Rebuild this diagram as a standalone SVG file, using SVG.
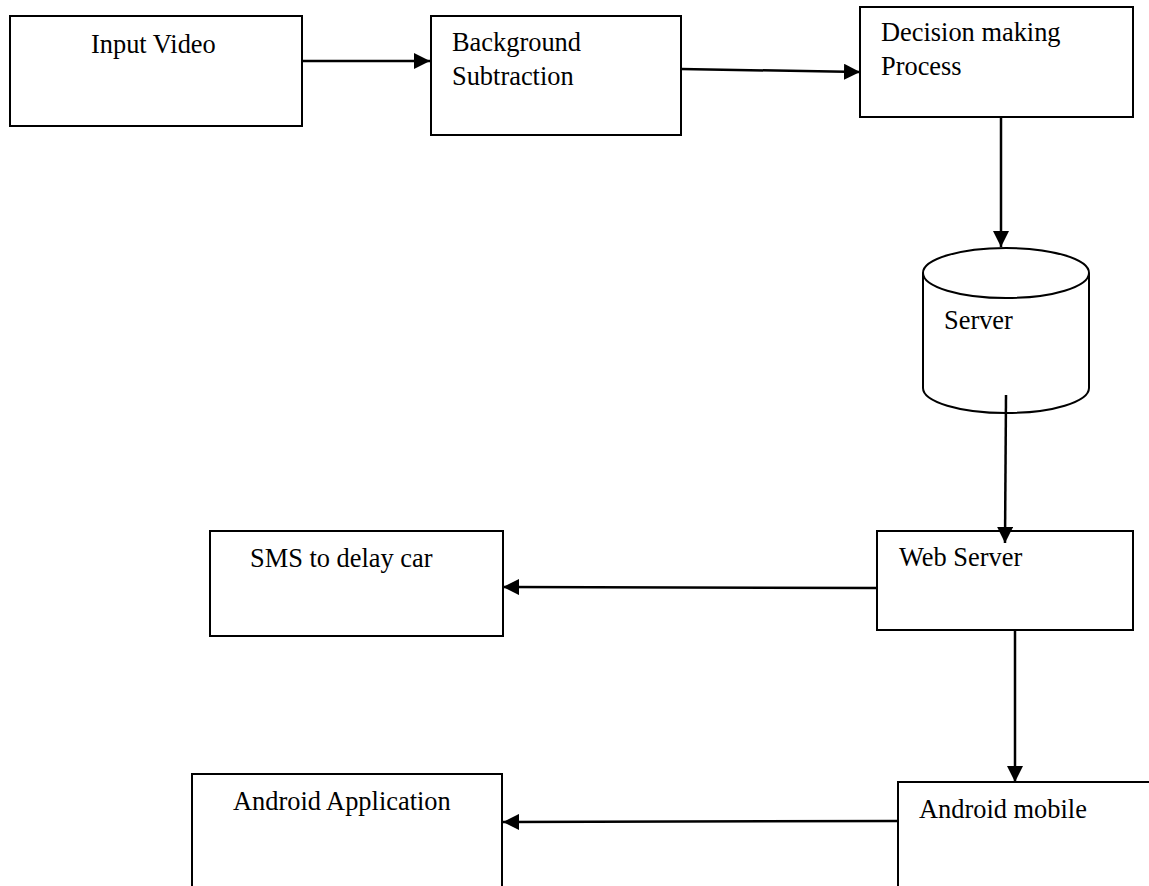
<svg xmlns="http://www.w3.org/2000/svg" width="1149" height="886" viewBox="0 0 1149 886">
  <style>
    .box { fill: #ffffff; stroke: #000000; stroke-width: 2; }
    .lbl { font-family: "Liberation Serif", "Times New Roman", serif; font-size: 26.4px; fill: #000000; }
    .wire { fill: none; stroke: #000000; stroke-width: 2.5; marker-end: url(#head); }
  </style>
  <defs>
    <marker id="head" markerUnits="userSpaceOnUse" viewBox="0 0 16 16" markerWidth="16" markerHeight="16" refX="16" refY="8" orient="auto">
      <path d="M0,0 L16,8 L0,16 Z" fill="#000000"/>
    </marker>
  </defs>
  <rect width="1149" height="886" fill="#ffffff"/>

  <g id="input-video">
    <rect class="box" x="10" y="16" width="292" height="110"/>
    <text class="lbl" x="91" y="53">Input Video</text>
  </g>

  <g id="background-subtraction">
    <rect class="box" x="431" y="16" width="250" height="119"/>
    <text class="lbl" x="452" y="51">Background</text>
    <text class="lbl" x="452" y="85">Subtraction</text>
  </g>

  <g id="decision-making">
    <rect class="box" x="860" y="7" width="273" height="110"/>
    <text class="lbl" x="881" y="41">Decision making</text>
    <text class="lbl" x="881" y="75">Process</text>
  </g>

  <g id="server">
    <path class="box" d="M923,273 A83,25 0 0,1 1089,273 L1089,388 A83,25 0 0,1 923,388 Z"/>
    <path class="box" fill="none" d="M923,273 A83,25 0 0,0 1089,273"/>
    <text class="lbl" x="944" y="329">Server</text>
  </g>

  <g id="web-server">
    <rect class="box" x="877" y="531" width="256" height="99"/>
    <text class="lbl" x="899" y="566">Web Server</text>
  </g>

  <g id="sms">
    <rect class="box" x="210" y="531" width="293" height="105"/>
    <text class="lbl" x="250" y="567">SMS to delay car</text>
  </g>

  <g id="android-application">
    <rect class="box" x="192" y="774" width="310" height="130"/>
    <text class="lbl" x="233" y="810">Android Application</text>
  </g>

  <g id="android-mobile">
    <rect class="box" x="898" y="782" width="270" height="130"/>
    <text class="lbl" x="919" y="818">Android mobile</text>
  </g>

  <g id="connectors">
    <line class="wire" x1="302" y1="61" x2="430" y2="61"/>
    <line class="wire" x1="681" y1="69" x2="860" y2="72"/>
    <line class="wire" x1="1001" y1="117" x2="1001" y2="247"/>
    <line class="wire" x1="1006" y1="395" x2="1005" y2="543"/>
    <line class="wire" x1="877" y1="588" x2="503" y2="587"/>
    <line class="wire" x1="1015" y1="630" x2="1015" y2="782"/>
    <line class="wire" x1="898" y1="821" x2="503" y2="822"/>
  </g>
</svg>
